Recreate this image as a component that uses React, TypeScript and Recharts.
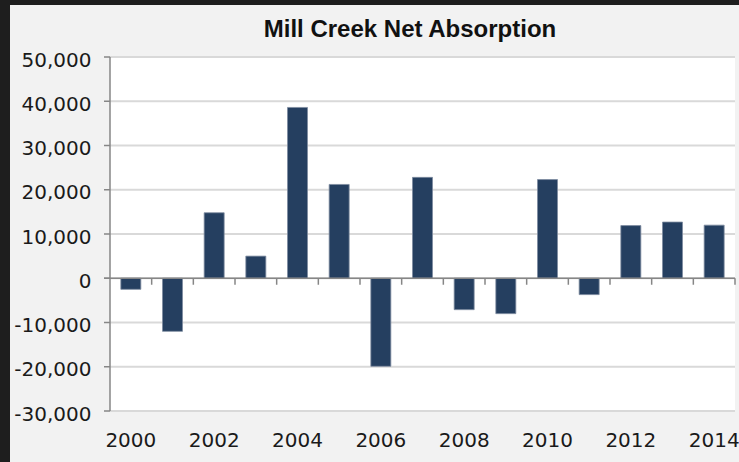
import React from 'react';
import { BarChart, Bar, XAxis, YAxis, CartesianGrid, ReferenceLine } from 'recharts';

const years: string[] = ['2000','2001','2002','2003','2004','2005','2006','2007','2008','2009','2010','2011','2012','2013','2014'];
const absorption: number[] = [-2500, -12000, 14800, 5000, 38600, 21200, -19900, 22800, -7100, -8000, 22300, -3700, 11900, 12700, 12000];
const yTicks: number[] = [-30000, -20000, -10000, 0, 10000, 20000, 30000, 40000, 50000];
const title = 'Mill Creek Net Absorption';

const data = years.map((y, i) => ({ year: y, value: absorption[i] }));

const FONT = '"DejaVu Sans", sans-serif';
const AXIS = '#868686';

const YTick = (props: any) => {
  const { x, y, payload } = props;
  return (
    <text x={x} y={y} dy={9.5} textAnchor="end" fontFamily={FONT} fontSize={20} fill="#1a1a1a">
      {Number(payload.value).toLocaleString('en-US')}
    </text>
  );
};

const XTick = (props: any) => {
  const { x, y, payload } = props;
  return (
    <text x={x} y={y} dy={35.5} textAnchor="middle" fontFamily={FONT} fontSize={20} fill="#1a1a1a">
      {payload.value}
    </text>
  );
};

const ZeroAxis = (props: any) => {
  const { x1, y1, x2 } = props;
  const n = years.length;
  const step = (x2 - x1) / n;
  const ticks = [];
  for (let i = 1; i <= n; i++) {
    const tx = x1 + step * i;
    ticks.push(<line key={i} x1={tx} x2={tx} y1={y1} y2={y1 + 6.5} stroke={AXIS} strokeWidth={1.5} />);
  }
  return (
    <g>
      <line x1={x1 - 6} x2={x2} y1={y1} y2={y1} stroke={AXIS} strokeWidth={1.5} />
      {ticks}
    </g>
  );
};

export default function App() {
  return (
    <div style={{ position: 'fixed', left: 0, top: 0, width: 739, height: 462, background: '#1e1e1e', overflow: 'hidden' }}>
      <div style={{ position: 'absolute', left: 10, top: 5, width: 729, height: 457, background: '#f2f2f2' }}>
        <BarChart width={729} height={457} data={data} margin={{ top: 52, right: 4, bottom: 0, left: 0 }} barCategoryGap="26%">
          <CartesianGrid vertical={false} stroke="#d9d9d9" strokeWidth={2} fill="#ffffff" />
          <XAxis dataKey="year" interval={1} axisLine={false} tickLine={false} tickSize={0} tickMargin={0} height={51} tick={<XTick />} />
          <YAxis
            type="number"
            domain={[-30000, 50000]}
            ticks={yTicks}
            width={100}
            tickSize={6}
            tickMargin={12.5}
            axisLine={{ stroke: AXIS, strokeWidth: 1.5 }}
            tickLine={{ stroke: AXIS, strokeWidth: 1.5 }}
            tick={<YTick />}
            interval={0}
          />
          <Bar dataKey="value" fill="#253f60" stroke="#7d8ca0" strokeWidth={0.8} isAnimationActive={false} />
          <ReferenceLine y={0} shape={<ZeroAxis />} />
        </BarChart>
      </div>
      <svg width={739} height={462} style={{ position: 'absolute', left: 0, top: 0, pointerEvents: 'none' }}>
        <text x={410} y={36.5} textAnchor="middle" fontFamily='"Liberation Sans", Arial, sans-serif' fontWeight="bold" fontSize={24} fill="#111">
          {title}
        </text>
      </svg>
    </div>
  );
}
